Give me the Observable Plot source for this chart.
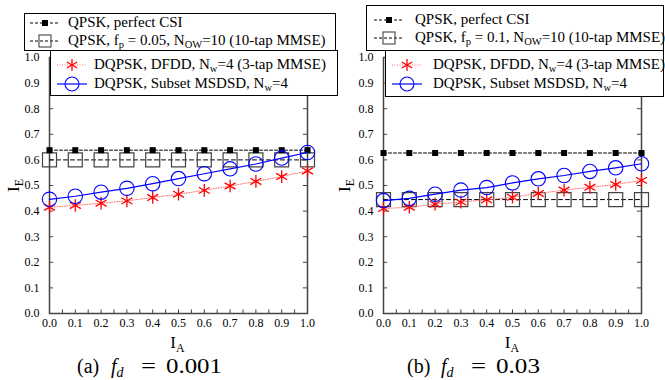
<!DOCTYPE html>
<html><head><meta charset="utf-8">
<script src="https://cdn.jsdelivr.net/npm/d3@7"></script>
<script src="https://cdn.jsdelivr.net/npm/@observablehq/plot@0.6"></script>
<style>
body{margin:0;background:#fff;}
#wrap{position:relative;width:665px;height:380px;overflow:hidden;font-family:"Liberation Serif","Times New Roman",serif;color:#000;}
.panel{position:absolute;top:0;}
.lg{position:absolute;background:#fff;border:1px solid #000;box-sizing:border-box;font-size:15px;line-height:19px;z-index:5;}
.row{position:absolute;white-space:nowrap;}
.row svg{position:absolute;top:0;}
.row span{position:absolute;top:0;white-space:nowrap;}
sub{font-size:70%;vertical-align:-0.3em;line-height:0;}
.lab{position:absolute;font-size:17px;line-height:17px;white-space:nowrap;z-index:4;}
.cap{position:absolute;font-size:20px;line-height:20px;white-space:nowrap;z-index:4;transform-origin:0 50%;}
</style></head>
<body><div id="wrap"></div>
<script>
const IA = [0,0.1,0.2,0.3,0.4,0.5,0.6,0.7,0.8,0.9,1.0];
const a_csi   = [0.638,0.638,0.638,0.638,0.638,0.638,0.638,0.638,0.638,0.638,0.638];
const a_mmse  = [0.600,0.600,0.600,0.600,0.600,0.600,0.600,0.600,0.600,0.600,0.600];
const a_dfdd  = [0.415,0.422,0.431,0.440,0.453,0.466,0.481,0.498,0.516,0.535,0.557];
const a_msdsd = [0.446,0.458,0.474,0.489,0.507,0.527,0.546,0.565,0.584,0.607,0.629];
const b_csi   = [0.627,0.627,0.627,0.627,0.627,0.627,0.627,0.627,0.627,0.627,0.627];
const b_mmse  = [0.445,0.445,0.445,0.445,0.445,0.445,0.445,0.445,0.445,0.445,0.445];
const b_dfdd  = [0.410,0.415,0.427,0.435,0.444,0.454,0.469,0.482,0.493,0.504,0.520];
const b_msdsd = [0.441,0.450,0.466,0.482,0.492,0.510,0.526,0.539,0.555,0.569,0.585];
const yTicks = [0,0.1,0.2,0.3,0.4,0.5,0.6,0.7,0.8,0.9,1.0];
const xTicks = [0,0.1,0.2,0.3,0.4,0.5,0.6,0.7,0.8,0.9,1.0];
const xMinor = [0,0.05,0.1,0.15,0.2,0.25,0.3,0.35,0.4,0.45,0.5,0.55,0.6,0.65,0.7,0.75,0.8,0.85,0.9,0.95,1.0];

const toRows = (ys) => IA.map((x,i)=>({x, y: ys[i]}));

function panel(csi, mmse, dfdd, msdsd){
  const C = toRows(csi), M = toRows(mmse), D = toRows(dfdd), S = toRows(msdsd);
  return Plot.plot({
    width: 330, height: 355,
    marginLeft: 49, marginRight: 23, marginTop: 57, marginBottom: 42,
    x: {domain:[0,1]}, y: {domain:[0,1]},
    style: {fontFamily:"'Liberation Serif', 'Times New Roman', serif", fontSize:"12px", color:"#000", background:"transparent", overflow:"visible"},
    marks: [
      Plot.ruleY(yTicks, {x1:0, x2:0.016, stroke:"#444"}),
      Plot.ruleY(yTicks, {x1:0.984, x2:1, stroke:"#444"}),
      Plot.ruleX(xMinor, {y1:0, y2:0.014, stroke:"#444"}),
      Plot.frame({stroke:"#444", strokeWidth:1.5}),
      Plot.axisY({ticks: yTicks, tickSize:0, tickPadding:10, tickFormat: d3.format(".1f"), label:null}),
      Plot.axisX({ticks: xTicks, tickSize:0, tickPadding:5, tickFormat: d3.format(".1f"), label:null}),
      Plot.line(M, {x:"x", y:"y", stroke:"#000", strokeWidth:1, strokeDasharray:"4,3"}),
      Plot.dot(M, {x:"x", y:"y", symbol:"square", r:7.9, stroke:"#444", strokeWidth:1.2, fill:"none"}),
      Plot.line(C, {x:"x", y:"y", stroke:"#000", strokeWidth:1, strokeDasharray:"3,2"}),
      Plot.dot(C, {x:"x", y:"y", symbol:"square", r:3.4, fill:"#000", stroke:"none"}),
      Plot.line(D, {x:"x", y:"y", stroke:"#ff7070", strokeWidth:1, strokeDasharray:"1,1.5"}),
      Plot.dot(D, {x:"x", y:"y", symbol:"asterisk", r:6, stroke:"#ff0000", strokeWidth:1.3}),
      Plot.line(S, {x:"x", y:"y", stroke:"#0000ff", strokeWidth:1.2}),
      Plot.dot(S, {x:"x", y:"y", symbol:"circle", r:7.2, stroke:"#0000ff", strokeWidth:1.1, fill:"none"})
    ]
  });
}

const wrap = document.getElementById("wrap");
function place(el, left){ el.classList.add("panel"); el.style.left = left+"px"; el.style.position="absolute"; wrap.appendChild(el); }
place(panel(a_csi,a_mmse,a_dfdd,a_msdsd), 0);
place(panel(b_csi,b_mmse,b_dfdd,b_msdsd), 334);

// legend swatches
function sw(kind){
  const w=30,h=19,c=15,my=10;
  if(kind==="csi") return `<svg width="${w}" height="${h}"><line x1="0" y1="${my}" x2="${w}" y2="${my}" stroke="#000" stroke-dasharray="3,2"/><rect x="${c-3}" y="${my-3}" width="6" height="6" fill="#000"/></svg>`;
  if(kind==="mmse") return `<svg width="${w}" height="${h}"><line x1="0" y1="${my}" x2="${w}" y2="${my}" stroke="#000" stroke-dasharray="3,2"/><rect x="${c-6}" y="${my-6}" width="12" height="12" fill="none" stroke="#444" stroke-width="1.1"/></svg>`;
  if(kind==="dfdd") return `<svg width="${w}" height="${h}"><line x1="0" y1="${my}" x2="${w}" y2="${my}" stroke="#ff7070" stroke-dasharray="1,1.5"/><g stroke="#f00" stroke-width="1.3"><line x1="${c}" y1="${my-6}" x2="${c}" y2="${my+6}"/><line x1="${c-5.2}" y1="${my-3}" x2="${c+5.2}" y2="${my+3}"/><line x1="${c-5.2}" y1="${my+3}" x2="${c+5.2}" y2="${my-3}"/></g></svg>`;
  return `<svg width="${w}" height="${h}"><line x1="0" y1="${my}" x2="${w}" y2="${my}" stroke="#00f" stroke-width="1.2"/><circle cx="${c}" cy="${my}" r="7" fill="none" stroke="#00f" stroke-width="1.1"/></svg>`;
}
function legend(left, top, width, height, rows){
  const d = document.createElement("div"); d.className="lg";
  Object.assign(d.style,{left:left+"px",top:top+"px",width:width+"px",height:height+"px"});
  d.innerHTML = rows.map(r=>`<div class="row" style="left:${r.sx}px;top:${r.y}px">${sw(r.k)}<span style="left:${r.tx}px">${r.t}</span></div>`).join("");
  wrap.appendChild(d);
}
legend(24, 13, 312, 38, [
  {k:"csi", sx:5, tx:38, y:-1, t:"QPSK, perfect CSI"},
  {k:"mmse", sx:5, tx:38, y:17, t:"QPSK, f<sub>p</sub> = 0.05, N<sub>OW</sub>=10 (10-tap MMSE)"}
]);
legend(50, 50, 288, 46, [
  {k:"dfdd", sx:6, tx:37, y:4, t:"DQPSK, DFDD, N<sub>w</sub>=4 (3-tap MMSE)"},
  {k:"msdsd", sx:6, tx:37, y:23, t:"DQPSK, Subset MSDSD, N<sub>w</sub>=4"}
]);
legend(366, 5, 298, 46, [
  {k:"csi", sx:7, tx:41, y:4, t:"QPSK, perfect CSI"},
  {k:"mmse", sx:7, tx:41, y:22, t:"QPSK, f<sub>p</sub> = 0.1, N<sub>OW</sub>=10 (10-tap MMSE)"}
]);
legend(385, 50, 279, 47, [
  {k:"dfdd", sx:6, tx:41, y:4, t:"DQPSK, DFDD, N<sub>w</sub>=4 (3-tap MMSE)"},
  {k:"msdsd", sx:6, tx:41, y:23, t:"DQPSK, Subset MSDSD, N<sub>w</sub>=4"}
]);

function lab(html, cx, cy, cls, rot){
  const d=document.createElement("div"); d.className=cls; d.innerHTML=html;
  wrap.appendChild(d);
  const r=d.getBoundingClientRect();
  d.style.left=(cx - r.width/2)+"px"; d.style.top=(cy - r.height/2)+"px";
  if(rot) d.style.transform="rotate(-90deg)";
}
lab("I<sub>A</sub>", 177.5, 342, "lab");
lab("I<sub>A</sub>", 512, 342, "lab");
lab("I<sub>E</sub>", 13, 185, "lab", true);
lab("I<sub>E</sub>", 344, 185, "lab", true);

// caption pieces: text, left edge, optional target width (px) reached by horizontal scaling
function capPiece(html, left, target){
  const d=document.createElement("div"); d.className="cap"; d.innerHTML=html;
  wrap.appendChild(d);
  d.style.top = "356px"; d.style.left = left+"px";
  if(target){
    const w = d.getBoundingClientRect().width;
    d.style.transform = `scaleX(${target/w})`;
  }
}
capPiece("(a)", 77);
capPiece("<i>f<sub>d</sub></i>", 111);
capPiece("=", 141, 15);
capPiece("0.001", 166, 56);
capPiece("(b)", 407);
capPiece("<i>f<sub>d</sub></i>", 441);
capPiece("=", 471, 15);
capPiece("0.03", 496, 44);
</script></body></html>
